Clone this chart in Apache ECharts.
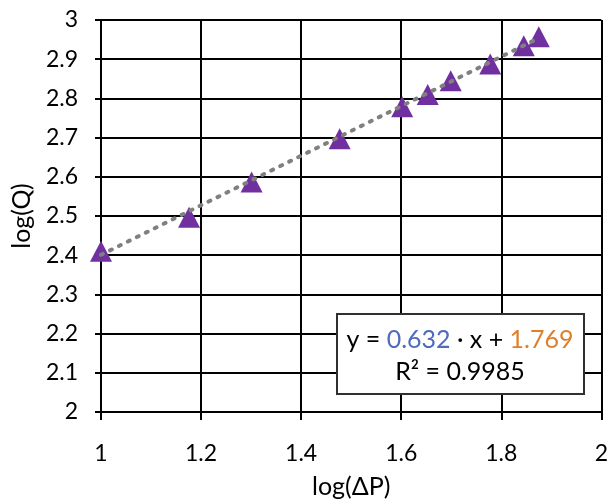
<!DOCTYPE html>
<html>
<head>
<meta charset="utf-8">
<script src="https://cdn.jsdelivr.net/npm/echarts@6/dist/echarts.min.js"></script>
<style>
html, body { margin: 0; padding: 0; background: #fff; }
#chart { width: 611px; height: 504px; }
</style>
</head>
<body>
<div id="chart"></div>
<script>
// log of pressure drop and log of flow
var logDP = [1.0, 1.176, 1.301, 1.477, 1.602, 1.653, 1.699, 1.778, 1.845, 1.875];
var logQ = [2.41, 2.497, 2.587, 2.697, 2.779, 2.81, 2.845, 2.888, 2.934, 2.957];
// trend line coefficients (from the chart annotation)
var slope = 0.632;
var intercept = 1.769;
var r2 = 0.9985;

var xFirst = logDP[0], xLast = logDP[logDP.length - 1];
var trend = [
  [xFirst, slope * xFirst + intercept],
  [xLast, slope * xLast + intercept]
];

var font = 'Lato, "Open Sans", sans-serif';
var chart = echarts.init(document.getElementById('chart'));

var option = {
  backgroundColor: '#fff',
  animation: false,
  grid: { left: 101, right: 8, top: 20, bottom: 90 },
  xAxis: {
    type: 'value',
    min: 1, max: 2, interval: 0.2,
    name: 'log(ΔP)',
    nameLocation: 'middle',
    nameGap: 62,
    nameTextStyle: { fontFamily: font, fontSize: 25, color: '#000' },
    axisLine: { show: true, lineStyle: { color: '#000', width: 2 } },
    axisTick: { show: true, length: 8, lineStyle: { color: '#000', width: 2 } },
    axisLabel: { fontFamily: font, fontSize: 23, color: '#000', margin: 30 },
    splitLine: { show: true, lineStyle: { color: '#000', width: 2 } }
  },
  yAxis: {
    type: 'value',
    min: 2, max: 3, interval: 0.1,
    name: 'log(Q)',
    nameLocation: 'middle',
    nameGap: 67,
    nameTextStyle: { fontFamily: font, fontSize: 25, color: '#000' },
    axisLine: { show: true, lineStyle: { color: '#000', width: 2 } },
    axisTick: { show: true, length: 6, lineStyle: { color: '#000', width: 2 } },
    axisLabel: {
      fontFamily: font, fontSize: 23, color: '#000', margin: 23,
      formatter: function (v) { return String(Math.round(v * 10) / 10); }
    },
    splitLine: { show: true, lineStyle: { color: '#000', width: 2 } }
  },
  series: [
    {
      type: 'scatter',
      data: logDP.map(function (x, i) { return [x, logQ[i]]; }),
      symbol: 'triangle',
      symbolSize: [22, 21],
      itemStyle: { color: '#7030A0', opacity: 1 },
      z: 3
    },
    {
      type: 'line',
      data: trend,
      showSymbol: false,
      symbol: 'none',
      lineStyle: { color: '#808080', width: 4, type: [2, 8], cap: 'round' },
      z: 4
    }
  ],
  graphic: [
    {
      type: 'rect',
      shape: { x: 337, y: 314, width: 247, height: 80 },
      style: { fill: '#fff', stroke: '#303030', lineWidth: 2 },
      z: 10
    },
    {
      type: 'text',
      x: 460, y: 356,
      z: 11,
      style: {
        text: '{k|y = }{b|' + slope.toFixed(3) + '}{k| · x + }{o|' + intercept.toFixed(3) + '}\n{k|R² = ' + r2 + '}',
        align: 'center',
        verticalAlign: 'middle',
        rich: {
          k: { fontFamily: font, fontSize: 25, fill: '#000', lineHeight: 32 },
          b: { fontFamily: font, fontSize: 25, fill: '#4F6BC0', lineHeight: 32 },
          o: { fontFamily: font, fontSize: 25, fill: '#E07F2A', lineHeight: 32 }
        }
      }
    }
  ]
};
chart.setOption(option);
</script>
</body>
</html>
